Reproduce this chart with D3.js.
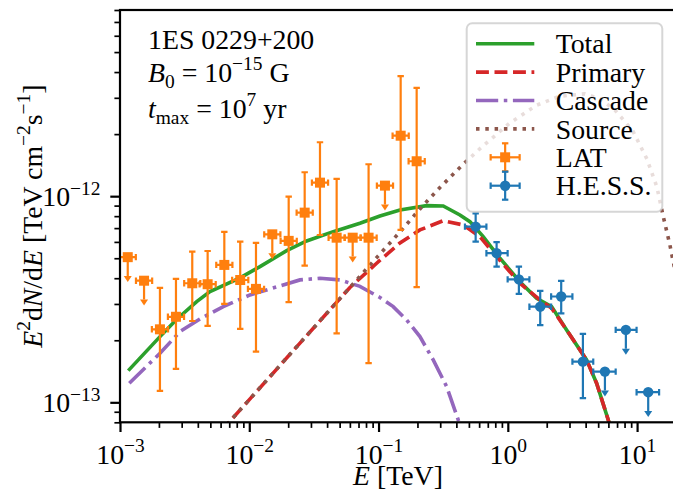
<!DOCTYPE html>
<html>
<head>
<meta charset="utf-8">
<script src="https://cdn.jsdelivr.net/npm/d3@7"></script>
<style>
  body { margin: 0; background: #fff; }
  svg { display: block; }
  text { font-family: "Liberation Serif", "Times New Roman", serif; fill: #000; white-space: pre; }
</style>
</head>
<body>
<svg id="chart" width="673" height="490"></svg>
<script>
// ---- axis ranges and tick labels -------------------------------------------
const xDomain = [1e-3, 20];            // E [TeV]
const yDomain = [8e-14, 8e-12];        // E^2 dN/dE [TeV cm^-2 s^-1]
const xTickValues = [1e-3, 1e-2, 1e-1, 1, 10];
const xTickExponents = ["\u22123", "\u22122", "\u22121", "0", "1"];
const yTickValues = [1e-13, 1e-12];
const yTickExponents = ["\u221213", "\u221212"];

// ---- model curves (E in TeV, E^2 dN/dE) ------------------------------------
const totalE = [1.159e-3, 2.039e-3, 2.711e-3, 3.920e-3, 4.967e-3, 8.475e-3, 1.210e-2, 1.947e-2,
  2.779e-2, 4.465e-2, 7.180e-2, 0.1025, 0.1464, 0.2355, 0.3165, 0.4262, 0.5092, 0.6451, 0.8687,
  1.240, 1.670, 2.182, 2.850, 4.070, 4.862, 6.052, 7.362];
const totalF = [1.425e-13, 2.083e-13, 2.510e-13, 3.079e-13, 3.443e-13, 4.012e-13, 4.551e-13, 5.441e-13,
  6.064e-13, 6.727e-13, 7.390e-13, 8.019e-13, 8.574e-13, 8.995e-13, 8.966e-13, 8.108e-13, 7.522e-13, 6.363e-13, 5.000e-13,
  3.849e-13, 3.198e-13, 2.912e-13, 2.245e-13, 1.606e-13, 1.238e-13, 8.035e-14, 4.677e-14];

const primaryE = [1.995e-3, 9.548e-3, 2.467e-2, 6.009e-2, 9.667e-2, 0.1464, 0.2090, 0.3165, 0.4520,
  0.6084, 0.8192, 1.240, 1.771, 2.182, 2.850, 4.070, 4.862, 6.052, 7.362];
const primaryF = [3.333e-14, 9.968e-14, 1.937e-13, 3.608e-13, 4.728e-13, 5.931e-13, 6.857e-13, 7.607e-13, 7.250e-13,
  6.363e-13, 5.090e-13, 3.782e-13, 3.138e-13, 2.860e-13, 2.245e-13, 1.606e-13, 1.238e-13, 8.035e-14, 4.677e-14];

const cascadeE = [1.180e-3, 2.039e-3, 2.911e-3, 4.156e-3, 6.294e-3, 1.013e-2, 1.727e-2, 2.467e-2, 3.523e-2,
  5.029e-2, 7.180e-2, 0.1025, 0.1299, 0.1649, 0.2090, 0.2649, 0.3363, 0.4134, 0.4742];
const cascadeF = [1.238e-13, 1.730e-13, 2.203e-13, 2.539e-13, 2.912e-13, 3.318e-13, 3.670e-13, 3.925e-13, 3.999e-13,
  3.925e-13, 3.650e-13, 3.227e-13, 2.912e-13, 2.510e-13, 2.083e-13, 1.606e-13, 1.192e-13, 8.217e-14, 6.217e-14];

const sourceE = [1.995e-3, 9.548e-3, 2.467e-2, 6.009e-2, 9.667e-2, 0.1464, 0.2090, 0.2985, 0.4498, 0.6417,
  1.038, 1.670, 2.528, 3.947, 5.157, 6.734, 9.280, 11.91, 14.23, 15.84, 17.94, 21.43];
const sourceF = [3.333e-14, 9.968e-14, 1.937e-13, 3.608e-13, 5.033e-13, 6.705e-13, 8.670e-13, 1.102e-12, 1.425e-12, 1.752e-12,
  2.265e-12, 2.763e-12, 3.056e-12, 3.135e-12, 2.968e-12, 2.619e-12, 2.071e-12, 1.515e-12, 1.108e-12, 8.108e-13, 5.799e-13, 3.321e-13];

// ---- Fermi-LAT spectral points ---------------------------------------------
const latE = [0.001148, 0.001535, 0.002037, 0.002710, 0.003622, 0.004764, 0.006412, 0.008511, 0.01127,
  0.01507, 0.02018, 0.02683, 0.03524, 0.04742, 0.06310, 0.08375, 0.1121, 0.1483, 0.1972];
const latElo = [0.000994, 0.001329, 0.001764, 0.002347, 0.003137, 0.004126, 0.005553, 0.007371, 0.009760,
  0.01305, 0.01748, 0.02324, 0.03052, 0.04107, 0.05465, 0.07253, 0.09708, 0.1284, 0.1708];
const latEhi = [0.001326, 0.001773, 0.002353, 0.003130, 0.004183, 0.005502, 0.007406, 0.009830, 0.01302,
  0.01741, 0.02331, 0.03099, 0.04070, 0.05477, 0.07288, 0.09673, 0.1295, 0.1713, 0.2278];
const latF = [5.06e-13, 3.89e-13, 2.26e-13, 2.60e-13, 3.78e-13, 3.74e-13, 4.64e-13, 3.92e-13, 3.55e-13,
  6.53e-13, 6.07e-13, 8.32e-13, 1.163e-12, 6.29e-13, 6.29e-13, 6.29e-13, 1.125e-12, 1.965e-12, 1.477e-12];
const latFlo = [null, null, 1.137e-13, 1.452e-13, 2.48e-13, 2.35e-13, 3.00e-13, 2.27e-13, 1.762e-13,
  null, 3.06e-13, 4.60e-13, 6.48e-13, 2.16e-13, null, 1.548e-13, null, 6.86e-13, 3.62e-13];
const latFhi = [null, null, 3.59e-13, 3.97e-13, 5.38e-13, 5.42e-13, 6.71e-13, 6.02e-13, 5.93e-13,
  null, 9.95e-13, 1.306e-12, 1.826e-12, 1.212e-12, null, 1.428e-12, null, 3.82e-12, 3.35e-12];

// ---- H.E.S.S. spectral points ----------------------------------------------
const hessE = [0.564, 0.819, 1.218, 1.781, 2.588, 3.81, 5.64, 8.19, 12.19];
const hessElo = [0.466, 0.683, 0.997, 1.469, 2.163, 3.16, 4.58, 6.83, 9.91];
const hessEhi = [0.683, 0.997, 1.469, 2.163, 3.16, 4.58, 6.83, 9.91, 14.8];
const hessF = [7.12e-13, 5.29e-13, 3.95e-13, 2.91e-13, 3.26e-13, 1.575e-13, 1.409e-13, 2.245e-13, 1.12e-13];
const hessFlo = [6.02e-13, 4.55e-13, 3.36e-13, 2.37e-13, 2.70e-13, 1.047e-13, null, null, null];
const hessFhi = [8.26e-13, 5.98e-13, 4.55e-13, 3.47e-13, 3.88e-13, 2.15e-13, null, null, null];

const legendLabels = ["Total", "Primary", "Cascade", "Source", "LAT", "H.E.S.S."];

// ---- styling ---------------------------------------------------------------
const C = { total: "#2ca02c", primary: "#d62728", cascade: "#9467bd", source: "#8c564b",
            lat: "#ff7f0e", hess: "#1f77b4" };
const LW = 3.6;
const DASH = { solid: null, dashed: "12.9,5.6", dashdot: "22.2,5.6,3.5,5.6", dotted: "3.5,5.8" };
const FS = 27.8;
const UL_RATIO = 0.81;   // end of an upper-limit bar relative to the limit value

const box = { left: 120, top: 10, right: 676, bottom: 422.3 };
const x = d3.scaleLog().domain(xDomain).range([box.left, box.right]);
const y = d3.scaleLog().domain(yDomain).range([box.bottom, box.top]);

const svg = d3.select("#chart");
svg.append("rect").attr("width", 673).attr("height", 490).attr("fill", "#fff");
svg.append("defs").append("clipPath").attr("id", "plotArea")
  .append("rect").attr("x", box.left).attr("y", box.top)
  .attr("width", box.right - box.left).attr("height", box.bottom - box.top);

// rich text: parts are {t, it, sup, sub}
function rich(sel, parts, fs) {
  let cur = 0;
  parts.forEach(p => {
    const target = p.sup ? -0.42 * fs : (p.sub ? 0.2 * fs : 0);
    const ts = sel.append("tspan").text(p.t).attr("dy", (target - cur).toFixed(2));
    cur = target;
    if (p.sup || p.sub) ts.attr("font-size", (0.7 * fs).toFixed(2));
    if (p.it) ts.attr("font-style", "italic");
  });
  return sel;
}

// ---- curves ----------------------------------------------------------------
const plot = svg.append("g").attr("clip-path", "url(#plotArea)");
const line = d3.line().x(d => x(d[0])).y(d => y(d[1]));
const pairs = (E, F) => E.map((e, i) => [e, F[i]]);
const curves = [
  { E: totalE, F: totalF, c: C.total, d: DASH.solid },
  { E: primaryE, F: primaryF, c: C.primary, d: DASH.dashed },
  { E: cascadeE, F: cascadeF, c: C.cascade, d: DASH.dashdot },
  { E: sourceE, F: sourceF, c: C.source, d: DASH.dotted }
];
curves.forEach(k => {
  plot.append("path").datum(pairs(k.E, k.F)).attr("d", line)
    .attr("fill", "none").attr("stroke", k.c).attr("stroke-width", LW)
    .attr("stroke-dasharray", k.d);
});

// ---- error bars --------------------------------------------------------------
const EB_W = 2.2, CAP = 3.2;
function downArrow(g, cx, yb, color) {
  g.append("path").attr("d", `M${cx - 4},${yb} L${cx + 4},${yb} L${cx},${yb + 6} Z`).attr("fill", color);
}
function errorSeries(E, Elo, Ehi, F, Flo, Fhi, color, shape) {
  const g = plot.append("g").attr("stroke", color).attr("stroke-width", EB_W);
  E.forEach((e, i) => {
    const cx = x(e), cy = y(F[i]);
    const xl = x(Elo[i]), xr = x(Ehi[i]);
    g.append("line").attr("x1", xl).attr("x2", xr).attr("y1", cy).attr("y2", cy);
    [xl, xr].forEach(xx => g.append("line").attr("x1", xx).attr("x2", xx)
      .attr("y1", cy - CAP).attr("y2", cy + CAP));
    if (Flo[i] === null) {
      const yb = y(F[i] * UL_RATIO);
      g.append("line").attr("x1", cx).attr("x2", cx).attr("y1", cy).attr("y2", yb);
      downArrow(g.append("g").attr("stroke", "none"), cx, yb, color);
    } else {
      const yt = y(Fhi[i]), yb = y(Flo[i]);
      g.append("line").attr("x1", cx).attr("x2", cx).attr("y1", yt).attr("y2", yb);
      [yt, yb].forEach(yy => g.append("line").attr("x1", cx - CAP).attr("x2", cx + CAP)
        .attr("y1", yy).attr("y2", yy));
    }
  });
  E.forEach((e, i) => {
    const cx = x(e), cy = y(F[i]);
    if (shape === "square") {
      plot.append("rect").attr("x", cx - 5).attr("y", cy - 5).attr("width", 10).attr("height", 10).attr("fill", color);
    } else {
      plot.append("circle").attr("cx", cx).attr("cy", cy).attr("r", 5.2).attr("fill", color);
    }
  });
}
errorSeries(latE, latElo, latEhi, latF, latFlo, latFhi, C.lat, "square");
errorSeries(hessE, hessElo, hessEhi, hessF, hessFlo, hessFhi, C.hess, "circle");

// ---- axes --------------------------------------------------------------------
function minorTicks(domain) {
  const out = [];
  const lo = Math.floor(Math.log10(domain[0])), hi = Math.ceil(Math.log10(domain[1]));
  for (let p = lo; p <= hi; p++) for (let m = 2; m <= 9; m++) {
    const v = m * Math.pow(10, p);
    if (v >= domain[0] * 0.999 && v <= domain[1] * 1.001) out.push(v);
  }
  return out;
}
const axisStyle = g => { g.select(".domain").remove(); g.selectAll("line").attr("stroke", "#000"); };

const xMinor = svg.append("g").attr("transform", `translate(0,${box.bottom})`)
  .call(d3.axisBottom(x).tickValues(minorTicks(xDomain)).tickSize(5.6).tickFormat(""));
xMinor.call(axisStyle); xMinor.selectAll("line").attr("stroke-width", 1.7);
const xMajor = svg.append("g").attr("transform", `translate(0,${box.bottom})`)
  .call(d3.axisBottom(x).tickValues(xTickValues).tickSize(9.7).tickFormat(""));
xMajor.call(axisStyle); xMajor.selectAll("line").attr("stroke-width", 2.2);
xMajor.selectAll(".tick").each(function (d, i) {
  d3.select(this).select("text").remove();
  const t = d3.select(this).append("text").attr("y", 464 - box.bottom).attr("text-anchor", "middle")
    .attr("font-size", FS);
  rich(t, [{ t: "10" }, { t: xTickExponents[i], sup: true }], FS);
});

const yMinor = svg.append("g").attr("transform", `translate(${box.left},0)`)
  .call(d3.axisLeft(y).tickValues(minorTicks(yDomain)).tickSize(5.6).tickFormat(""));
yMinor.call(axisStyle); yMinor.selectAll("line").attr("stroke-width", 1.7);
const yMajor = svg.append("g").attr("transform", `translate(${box.left},0)`)
  .call(d3.axisLeft(y).tickValues(yTickValues).tickSize(9.7).tickFormat(""));
yMajor.call(axisStyle); yMajor.selectAll("line").attr("stroke-width", 2.2);
yMajor.selectAll(".tick").each(function (d, i) {
  d3.select(this).select("text").remove();
  const t = d3.select(this).append("text").attr("x", -19.5).attr("y", 9.5).attr("text-anchor", "end")
    .attr("font-size", FS);
  rich(t, [{ t: "10" }, { t: yTickExponents[i], sup: true }], FS);
});

// frame
svg.append("rect").attr("x", box.left).attr("y", box.top)
  .attr("width", box.right - box.left).attr("height", box.bottom - box.top)
  .attr("fill", "none").attr("stroke", "#000").attr("stroke-width", 2.2);

// axis labels
rich(svg.append("text").attr("x", (box.left + box.right) / 2).attr("y", 485)
  .attr("text-anchor", "middle").attr("font-size", FS),
  [{ t: "E", it: true }, { t: " [TeV]" }], FS);
rich(svg.append("text").attr("transform", `translate(42,${(box.top + box.bottom) / 2}) rotate(-90)`)
  .attr("text-anchor", "middle").attr("font-size", FS),
  [{ t: "E", it: true }, { t: "2", sup: true }, { t: "d" }, { t: "N", it: true }, { t: "/d" },
   { t: "E", it: true }, { t: " [TeV cm" }, { t: "\u22122", sup: true }, { t: "s" },
   { t: "\u22121", sup: true }, { t: "]" }], FS);

// annotation
svg.append("text").attr("x", 148).attr("y", 49).attr("font-size", FS).text("1ES 0229+200");
rich(svg.append("text").attr("x", 148).attr("y", 82).attr("font-size", FS),
  [{ t: "B", it: true }, { t: "0", sub: true }, { t: " = 10" }, { t: "\u221215", sup: true }, { t: " G" }], FS);
rich(svg.append("text").attr("x", 148).attr("y", 118).attr("font-size", FS),
  [{ t: "t", it: true }, { t: "max", sub: true }, { t: " = 10" }, { t: "7", sup: true }, { t: " yr" }], FS);

// ---- legend ------------------------------------------------------------------
const lg = svg.append("g");
lg.append("rect").attr("x", 466.7).attr("y", 23.3).attr("width", 195.6).attr("height", 188.4)
  .attr("rx", 5.5).attr("fill", "#fff").attr("fill-opacity", 0.8)
  .attr("stroke", "#cccccc").attr("stroke-opacity", 0.8).attr("stroke-width", 2);
const rowY = i => 43.7 + i * 28.4;
const hx0 = 476, hx1 = 534.3, hxc = (hx0 + hx1) / 2;
curves.forEach((k, i) => {
  lg.append("line").attr("x1", hx0).attr("x2", hx1).attr("y1", rowY(i)).attr("y2", rowY(i))
    .attr("stroke", k.c).attr("stroke-width", LW).attr("stroke-dasharray", k.d);
});
[[C.lat, "square"], [C.hess, "circle"]].forEach(([col, shape], j) => {
  const cy = rowY(4 + j);
  const g = lg.append("g").attr("stroke", col).attr("stroke-width", EB_W);
  g.append("line").attr("x1", hxc - 14.5).attr("x2", hxc + 14.5).attr("y1", cy).attr("y2", cy);
  g.append("line").attr("x1", hxc).attr("x2", hxc).attr("y1", cy - 14).attr("y2", cy + 14);
  [hxc - 14.5, hxc + 14.5].forEach(xx => g.append("line").attr("x1", xx).attr("x2", xx).attr("y1", cy - CAP).attr("y2", cy + CAP));
  [cy - 14, cy + 14].forEach(yy => g.append("line").attr("x1", hxc - CAP).attr("x2", hxc + CAP).attr("y1", yy).attr("y2", yy));
  if (shape === "square") lg.append("rect").attr("x", hxc - 5).attr("y", cy - 5).attr("width", 10).attr("height", 10).attr("fill", col);
  else lg.append("circle").attr("cx", hxc).attr("cy", cy).attr("r", 5.2).attr("fill", col);
});
legendLabels.forEach((s, i) => {
  lg.append("text").attr("x", 555.7).attr("y", rowY(i) + 9.6).attr("font-size", FS).text(s);
});
</script>
</body>
</html>
